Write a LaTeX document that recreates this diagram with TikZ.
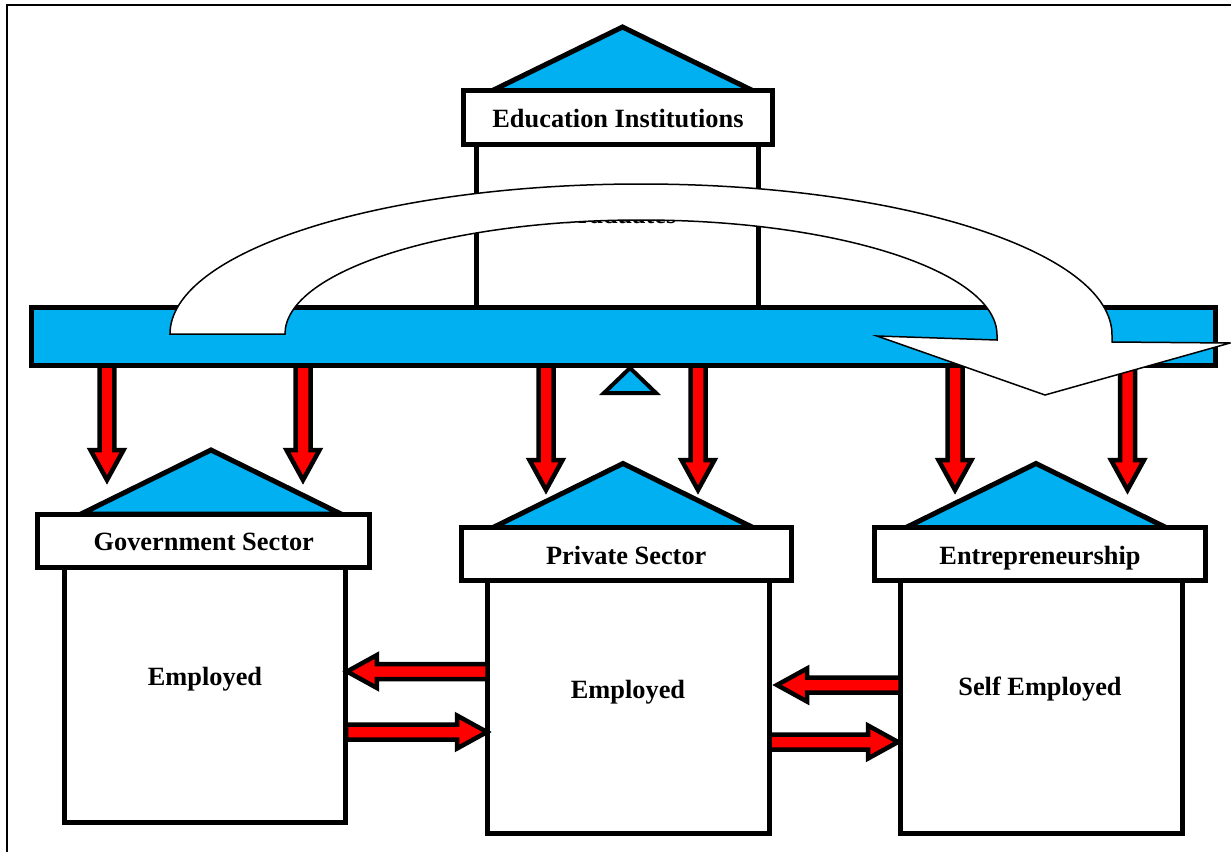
\documentclass[tikz,border=0pt]{standalone}
\usepackage{fontspec}
\setmainfont{Liberation Serif}
\usetikzlibrary{calc}
\definecolor{roofblue}{HTML}{00B0F0}
\definecolor{arrowred}{HTML}{FF0000}
\tikzset{
  box/.style={draw, line width=0.1cm, fill=white, inner sep=0pt},
  lbl/.style={box, font=\fontsize{15}{18}\selectfont\bfseries, text height=0.5cm, text depth=0.1cm},
  txt/.style={font=\fontsize{15}{18}\selectfont\bfseries, inner sep=0pt},
  roof/.style={draw, line width=0.1cm, fill=roofblue, line join=miter},
  bigarrow/.style={draw, line width=0.03cm, fill=white},
  blockarrow/.style={draw, line width=0.09cm, fill=arrowred, line join=miter,
    to path={($(\tikztostart)!0.15cm!90:(\tikztotarget)$)
      -- ($(\tikztotarget)!0.6cm!(\tikztostart)!0.15cm!90:(\tikztotarget)$)
      -- ($(\tikztotarget)!0.6cm!(\tikztostart)!0.33cm!90:(\tikztotarget)$)
      -- (\tikztotarget)
      -- ($(\tikztotarget)!0.6cm!(\tikztostart)!0.33cm!-90:(\tikztotarget)$)
      -- ($(\tikztotarget)!0.6cm!(\tikztostart)!0.15cm!-90:(\tikztotarget)$)
      -- ($(\tikztostart)!0.15cm!-90:(\tikztotarget)$) -- cycle}}
}
\begin{document}
\begin{tikzpicture}[x=0.02cm, y=-0.02cm]
  \useasboundingbox (0,0) rectangle (1231,852);
  \draw[line width=0.04cm] (1231,5) -- (7,5) -- (7,852);

  \coordinate (edutop) at (622.5,27);
  \coordinate (govtop) at (211,450);
  \coordinate (privtop) at (623,463.5);
  \coordinate (enttop) at (1036,463.5);

  \draw[roof] (edutop) -- ++(130,63.5) -- ++(-260,0) -- cycle;
  \node[box, minimum width=5.64cm, minimum height=3.26cm] (edubody) at (617.5,226) {};
  \node[lbl, minimum width=6.18cm, minimum height=1.08cm] (edulbl) at (618,117.5) {Education Institutions};

  \coordinate (ga1) at (107,362);  \coordinate (gb1) at (107,480);
  \coordinate (ga2) at (303,362);  \coordinate (gb2) at (303,480);
  \coordinate (pa1) at (546,362);  \coordinate (pb1) at (546,490);
  \coordinate (pa2) at (698,362);  \coordinate (pb2) at (698,490);
  \coordinate (ea1) at (955,362);  \coordinate (eb1) at (955,490);
  \coordinate (ea2) at (1127.5,362); \coordinate (eb2) at (1127.5,490);
  \draw[blockarrow] (ga1) to (gb1);
  \draw[blockarrow] (ga2) to (gb2);
  \draw[blockarrow] (pa1) to (pb1);
  \draw[blockarrow] (pa2) to (pb2);
  \draw[blockarrow] (ea1) to (eb1);
  \draw[blockarrow] (ea2) to (eb2);

  \node[roof, minimum width=23.68cm, minimum height=1.16cm, inner sep=0pt] (bar) at (623.5,336.5) {};
  \draw[roof, line width=0.08cm] (630,368) -- (656,393) -- (604,393) -- cycle;

  \node[txt, anchor=base] (grad) at (617,223) {Graduates};
  \draw[bigarrow] (170,334) .. controls (170,251.6) and (380.9,184) .. (641,184)
    .. controls (901.1,184) and (1112,251.6) .. (1112,335) -- (1112,342)
    -- (1230,343) -- (1045,395) -- (877,336) -- (997,340) -- (997,335)
    .. controls (997,271.5) and (837.6,220) .. (641,220)
    .. controls (444.4,220) and (285,271.5) .. (285,334) -- cycle;

  \draw[roof] (govtop) -- ++(130,64) -- ++(-260,0) -- cycle;
  \draw[roof] (privtop) -- ++(130,64) -- ++(-260,0) -- cycle;
  \draw[roof] (enttop) -- ++(130,64) -- ++(-260,0) -- cycle;

  \node[box, minimum width=5.63cm, minimum height=5.10cm] (govbody) at (205.25,695) {};
  \node[box, minimum width=5.64cm, minimum height=5.07cm] (privbody) at (628.5,707.25) {};
  \node[box, minimum width=5.64cm, minimum height=5.07cm] (entbody) at (1041.5,707.25) {};

  \node[lbl, minimum width=6.65cm, minimum height=1.07cm] (govlbl) at (203.75,540.75) {Government Sector};
  \node[lbl, minimum width=6.61cm, minimum height=1.06cm] (privlbl) at (626.25,554) {Private Sector};
  \node[lbl, minimum width=6.62cm, minimum height=1.06cm] (entlbl) at (1040,554) {Entrepreneurship};

  \node[txt] (govtxt) at (205,679) {Employed};
  \node[txt] (privtxt) at (628,692) {Employed};
  \node[txt] (enttxt) at (1040,689) {Self Employed};

  \coordinate (pg1) at (487.5,671.5); \coordinate (gp1) at (347,671.5);
  \coordinate (gp2) at (346,732);     \coordinate (pg2) at (487,732);
  \coordinate (ep1) at (900.5,685);   \coordinate (pe1) at (777,685);
  \coordinate (pe2) at (769.5,742);   \coordinate (ep2) at (898,742);
  \draw[blockarrow] (pg1) to (gp1);
  \draw[blockarrow] (gp2) to (pg2);
  \draw[blockarrow] (ep1) to (pe1);
  \draw[blockarrow] (pe2) to (ep2);
\end{tikzpicture}
\end{document}
